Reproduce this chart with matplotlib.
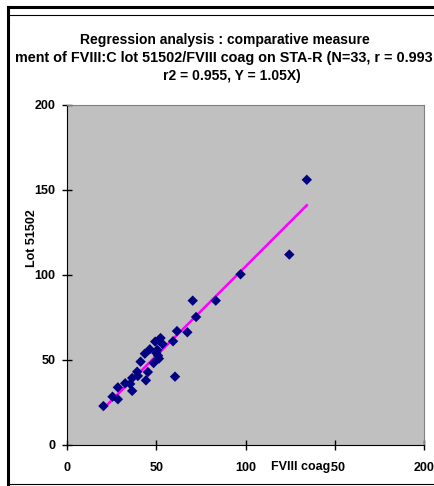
import matplotlib
matplotlib.use("Agg")
import matplotlib.pyplot as plt
import numpy as np
from matplotlib.lines import Line2D

plt.rcParams['font.family'] = ['Liberation Sans', 'DejaVu Sans']

# FVIII coag (x) vs lot 51502 (y), N=33
fviii_coag = [20.4, 25.5, 28.5, 28.5, 32.6, 35.4, 36.5, 36.5, 39.3, 39.7,
              41.2, 43.6, 44.2, 45.3, 46.4, 48.5, 49.4, 50.0, 50.6, 51.0,
              51.5, 52.4, 53.5, 59.4, 60.5, 61.6, 67.4, 70.4, 72.3, 83.3,
              97.2, 124.5, 134.3]
lot_51502 = [22.9, 28.4, 33.9, 26.9, 36.3, 35.9, 39.4, 31.8, 43.1, 40.6,
             49.0, 53.7, 38.0, 42.9, 56.3, 48.2, 60.8, 54.1, 55.9, 52.5,
             50.8, 62.9, 59.4, 61.0, 40.2, 67.0, 66.3, 84.9, 75.3, 84.9,
             100.4, 112.0, 156.0]
slope = 1.05

x_ticks = [0, 50, 100, 150, 200]
y_ticks = [0, 50, 100, 150, 200]

title_lines = ["Regression analysis : comparative measure",
               "ment of FVIII:C lot 51502/FVIII coag on STA-R (N=33, r = 0.993",
               "r2 = 0.955, Y = 1.05X)"]

fig = plt.figure(figsize=(4.35, 4.86), dpi=100)
ax = fig.add_axes([0.154, 0.0844, 0.821, 0.6996])
ax.set_facecolor('#C0C0C0')

x = np.array(fviii_coag)
fit_x = np.array([x.min(), x.max()])
ax.plot(fit_x, slope * fit_x, color='#FF00FF', lw=1.8, zorder=2)
ax.scatter(fviii_coag, lot_51502, marker='D', s=28, color='#000080',
           edgecolors='none', zorder=3)

ax.set_xlim(0, 200)
ax.set_ylim(0, 200)
ax.set_xticks(x_ticks)
ax.set_yticks(y_ticks)
ax.tick_params(direction='inout', length=7, width=1, labelsize=9)
ax.tick_params(axis='x', pad=9)
ax.tick_params(axis='y', pad=5)
for lab in ax.get_xticklabels() + ax.get_yticklabels():
    lab.set_fontweight('bold')
for side in ['top', 'right']:
    ax.spines[side].set_color('#808080')
for side in ['left', 'bottom']:
    ax.spines[side].set_color('black')

# title, one line at a time (the long middle line runs off the right edge)
fig.text(225 / 435, 1 - 40 / 486, title_lines[0], ha='center', va='center',
         fontsize=10, fontweight='bold')
fig.text(15 / 435, 1 - 58 / 486, title_lines[1], ha='left', va='center',
         fontsize=10.4, fontweight='bold')
fig.text(232 / 435, 1 - 76 / 486, title_lines[2], ha='center', va='center',
         fontsize=10, fontweight='bold')

fig.text(0.69, 0.039, 'FVIII coag', ha='center', va='center', fontsize=9,
         fontweight='bold', zorder=5,
         bbox=dict(facecolor='white', edgecolor='none', pad=0.5))
fig.text(0.074, 0.51, 'Lot 51502', ha='center', va='center', rotation=90,
         fontsize=9, fontweight='bold')

# outer frame
fig.add_artist(Line2D([8 / 435, 1], [1 - 7.5 / 486] * 2, color='black', lw=2.2))
fig.add_artist(Line2D([8 / 435, 1], [1 - 15 / 486] * 2, color='black', lw=0.8))
fig.add_artist(Line2D([8 / 435] * 2, [1 - 7 / 486, 1 - 485 / 486], color='black', lw=2.2))
fig.add_artist(Line2D([8 / 435, 1], [1 - 484 / 486] * 2, color='black', lw=0.8))

fig.savefig('out.png', dpi=100)
